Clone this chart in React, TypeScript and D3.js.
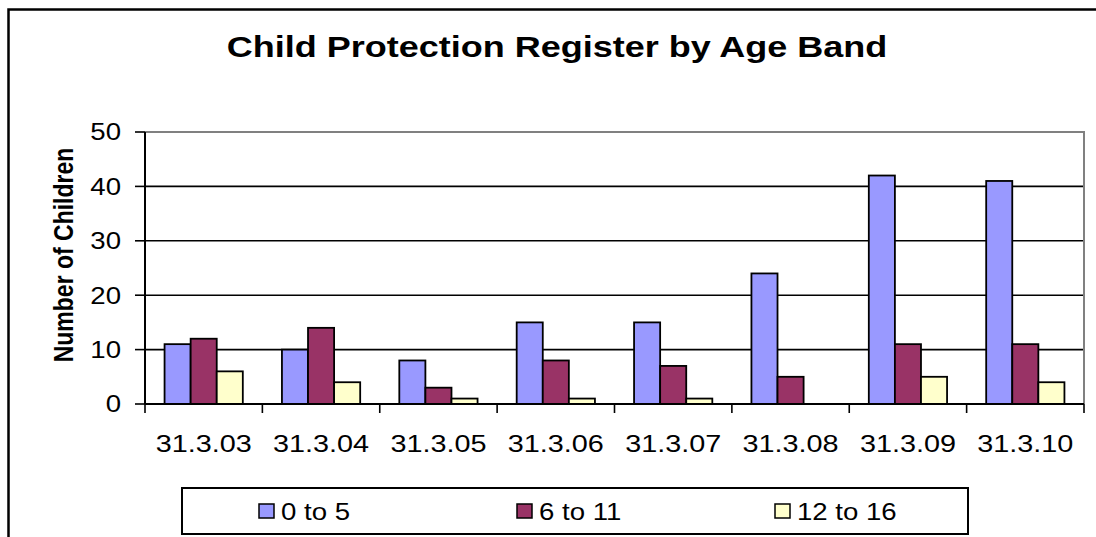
import React, { useEffect, useRef } from 'react';
import * as d3 from 'd3';

// data
const years = ['31.3.03', '31.3.04', '31.3.05', '31.3.06', '31.3.07', '31.3.08', '31.3.09', '31.3.10'];
const ageBands = ['0 to 5', '6 to 11', '12 to 16'];
const age0to5 = [11, 10, 8, 15, 15, 24, 42, 41];
const age6to11 = [12, 14, 3, 8, 7, 5, 11, 11];
const age12to16 = [6, 4, 1, 1, 1, 0, 5, 4];
const bandColours = ['#9999ff', '#993366', '#ffffcc'];
const yTicks = [0, 10, 20, 30, 40, 50];

const W = 1096;
const H = 537;
const plot = { left: 145, right: 1084, top: 132, bottom: 404 };
const STRETCH = 1.2; // the source picture is a little wider than it is tall
const FONT = 'Arial, "Liberation Sans", sans-serif';

const App = () => {
  const ref = useRef(null);

  useEffect(() => {
    drawChart();
  }, []);

  const drawChart = () => {
    const svg = d3.select(ref.current);
    svg.selectAll('*').remove();

    const series = [age0to5, age6to11, age12to16];

    const x0 = d3.scaleBand().domain(years).range([plot.left, plot.right]).padding(0);
    const x1 = d3.scaleBand().domain(ageBands).range([0, x0.bandwidth()]).paddingInner(0).paddingOuter(0.75);
    const y = d3.scaleLinear().domain([0, 50]).range([plot.bottom, plot.top]);

    const text = (x, y, str, size, anchor = 'middle', weight = 'normal', rotate = 0) =>
      svg.append('text')
        .attr('transform', `translate(${x},${y}) scale(${STRETCH},1)` + (rotate ? ` rotate(${rotate})` : ''))
        .attr('font-family', FONT)
        .attr('font-size', size)
        .attr('font-weight', weight)
        .attr('text-anchor', anchor)
        .attr('fill', '#000')
        .text(str);

    // outer chart frame - only top and left edges are inside the picture
    svg.append('path')
      .attr('d', `M8.5,${H + 5}V9.5H${W + 5}`)
      .attr('fill', 'none').attr('stroke', '#000').attr('stroke-width', 2.5);

    text(557, 57, 'Child Protection Register by Age Band', 30, 'middle', 'bold');

    // gridlines
    yTicks.filter(t => t > 0 && t < 50).forEach(t => {
      svg.append('line')
        .attr('x1', plot.left).attr('x2', plot.right)
        .attr('y1', y(t)).attr('y2', y(t))
        .attr('stroke', '#000').attr('stroke-width', 1.6);
    });
    // plot border top/right in grey
    svg.append('path')
      .attr('d', `M${plot.left},${y(50)}H${plot.right}V${plot.bottom}`)
      .attr('fill', 'none').attr('stroke', '#808080').attr('stroke-width', 2);

    // bars
    series.forEach((vals, i) => {
      vals.forEach((v, j) => {
        if (v <= 0) return;
        svg.append('rect')
          .attr('x', x0(years[j]) + x1(ageBands[i]))
          .attr('y', y(v))
          .attr('width', x1.bandwidth())
          .attr('height', y(0) - y(v))
          .attr('fill', bandColours[i])
          .attr('stroke', '#000')
          .attr('stroke-width', 1.8);
      });
    });

    // y axis
    svg.append('line')
      .attr('x1', plot.left).attr('x2', plot.left)
      .attr('y1', plot.top).attr('y2', plot.bottom)
      .attr('stroke', '#000').attr('stroke-width', 2);
    yTicks.forEach(t => {
      svg.append('line')
        .attr('x1', plot.left - 10).attr('x2', plot.left)
        .attr('y1', y(t)).attr('y2', y(t))
        .attr('stroke', '#000').attr('stroke-width', 1.6);
      text(plot.left - 24, y(t) + 8.3, String(t), 23, 'end');
    });

    // x axis
    svg.append('line')
      .attr('x1', plot.left).attr('x2', plot.right)
      .attr('y1', plot.bottom).attr('y2', plot.bottom)
      .attr('stroke', '#000').attr('stroke-width', 2);
    d3.range(years.length + 1).forEach(j => {
      const xt = plot.left + j * x0.step();
      svg.append('line')
        .attr('x1', xt).attr('x2', xt)
        .attr('y1', plot.bottom).attr('y2', plot.bottom + 9)
        .attr('stroke', '#000').attr('stroke-width', 1.6);
    });
    years.forEach(yr => {
      text(x0(yr) + x0.bandwidth() / 2, 452, yr, 24);
    });

    // axis title
    text(73, 255, 'Number of Children', 23, 'middle', 'bold', -90);

    // legend
    const lg = { x: 182, y: 488, w: 786, h: 46 };
    svg.append('rect')
      .attr('x', lg.x).attr('y', lg.y)
      .attr('width', lg.w).attr('height', lg.h)
      .attr('fill', '#fff').attr('stroke', '#000').attr('stroke-width', 2);
    ageBands.forEach((band, i) => {
      const sx = lg.x + 77 + i * 258;
      svg.append('rect')
        .attr('x', sx).attr('y', 504)
        .attr('width', 15).attr('height', 14)
        .attr('fill', bandColours[i])
        .attr('stroke', '#000').attr('stroke-width', 1.5);
      text(sx + 22, 520, band, 23, 'start');
    });
  };

  return (
    <svg ref={ref} width={W} height={H} style={{ position: 'absolute', left: 0, top: 0, background: '#fff' }}></svg>
  );
};

export default App;
